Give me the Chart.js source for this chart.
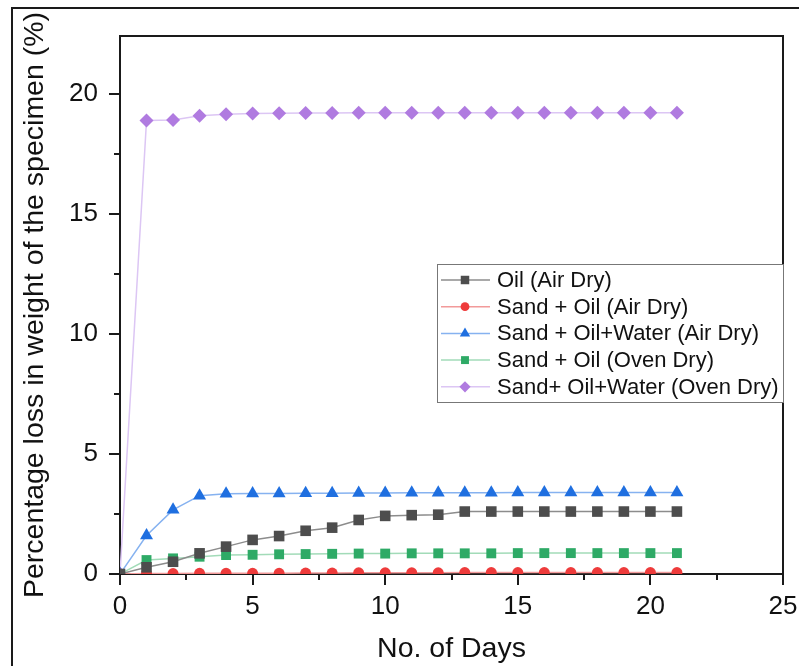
<!DOCTYPE html>
<html>
<head>
<meta charset="utf-8">
<script src="https://cdn.jsdelivr.net/npm/chart.js@4/dist/chart.umd.min.js"></script>
<style>
  html, body { margin: 0; padding: 0; background: #fff; overflow: hidden; }
  #wrap { position: relative; width: 799px; height: 666px; }
  #frame { position: absolute; left: 11px; top: 7px; width: 900px; height: 800px; border: 2px solid #1a1a1a; }
  canvas { position: absolute; left: 0; top: 0; }
</style>
</head>
<body>
<div id="wrap">
  <div id="frame"></div>
  <canvas id="lossChart" width="799" height="666"></canvas>
</div>
<script>
// Días de medición
const days = [0, 1, 2, 3, 4, 5, 6, 7, 8, 9, 10, 11, 12, 13, 14, 15, 16, 17, 18, 19, 20, 21];

// Pérdida de peso (%) por serie
const oilAir = [0, 0.28, 0.51, 0.86, 1.14, 1.42, 1.58, 1.8, 1.93, 2.25, 2.42, 2.45, 2.47, 2.6, 2.6, 2.6, 2.6, 2.6, 2.6, 2.6, 2.6, 2.6];
const sandOilAir = [0, 0.02, 0.02, 0.03, 0.03, 0.03, 0.03, 0.04, 0.04, 0.05, 0.05, 0.05, 0.05, 0.06, 0.06, 0.06, 0.06, 0.06, 0.06, 0.06, 0.06, 0.06];
const sandOilWaterAir = [0, 1.6, 2.67, 3.26, 3.34, 3.35, 3.35, 3.36, 3.36, 3.37, 3.37, 3.38, 3.38, 3.38, 3.38, 3.39, 3.39, 3.39, 3.39, 3.39, 3.39, 3.39];
const sandOilOven = [0, 0.58, 0.65, 0.72, 0.79, 0.8, 0.82, 0.83, 0.84, 0.85, 0.85, 0.86, 0.86, 0.86, 0.86, 0.87, 0.87, 0.87, 0.87, 0.87, 0.87, 0.87];
const sandOilWaterOven = [0, 18.88, 18.9, 19.08, 19.14, 19.17, 19.18, 19.19, 19.19, 19.2, 19.2, 19.2, 19.2, 19.2, 19.2, 19.2, 19.2, 19.2, 19.2, 19.2, 19.2, 19.2];

const seriesNames = ['Oil (Air Dry)', 'Sand + Oil (Air Dry)', 'Sand + Oil+Water (Air Dry)', 'Sand + Oil (Oven Dry)', 'Sand+ Oil+Water (Oven Dry)'];

// Ticks de los ejes
const xTicks = [0, 5, 10, 15, 20, 25];
const yTicks = [0, 5, 10, 15, 20];
const xMinor = [2.5, 7.5, 12.5, 17.5, 22.5];
const yMinor = [2.5, 7.5, 12.5, 17.5];

const FONT = "'Liberation Sans', Arial, sans-serif";

const styles = [
  { marker: '#4d4d4d', line: '#8c8c8c', shape: 'rect', r: 7.5 },
  { marker: '#ee3b3b', line: '#f29a9a', shape: 'circle', r: 5.5 },
  { marker: '#1f6fe0', line: '#86b2f0', shape: 'triangle', r: 7.5 },
  { marker: '#2eaa66', line: '#a2dbb8', shape: 'rect', r: 7 },
  { marker: '#b07be0', line: '#dcc6f4', shape: 'rectRot', r: 7 }
];

const values = [oilAir, sandOilAir, sandOilWaterAir, sandOilOven, sandOilWaterOven];

const datasets = values.map((vals, i) => ({
  label: seriesNames[i],
  data: days.map((d, j) => ({ x: d, y: vals[j] })),
  borderColor: styles[i].line,
  borderWidth: 1.5,
  pointStyle: styles[i].shape,
  pointRadius: styles[i].r,
  pointBackgroundColor: styles[i].marker,
  pointBorderWidth: 0,
  pointHoverRadius: styles[i].r,
  tension: 0,
  fill: false
}));

// Marco superior/derecho, ticks menores y leyenda
const extras = {
  id: 'extras',
  afterDraw(chart) {
    const ctx = chart.ctx;
    const a = chart.chartArea;
    const xs = chart.scales.x, ys = chart.scales.y;
    ctx.save();
    ctx.strokeStyle = '#1a1a1a';
    ctx.lineWidth = 2;
    ctx.beginPath();
    ctx.moveTo(a.left, a.top);
    ctx.lineTo(a.right, a.top);
    ctx.lineTo(a.right, a.bottom);
    ctx.stroke();
    // ticks menores
    ctx.beginPath();
    xMinor.forEach(v => {
      const px = Math.round(xs.getPixelForValue(v));
      ctx.moveTo(px, a.bottom);
      ctx.lineTo(px, a.bottom + 6);
    });
    yMinor.forEach(v => {
      const py = Math.round(ys.getPixelForValue(v));
      ctx.moveTo(a.left, py);
      ctx.lineTo(a.left - 6, py);
    });
    ctx.stroke();

    // leyenda
    const lx = a.right - 346, ly = 264, lw = 346, lh = 138;
    ctx.fillStyle = '#fff';
    ctx.fillRect(lx, ly, lw, lh);
    ctx.strokeStyle = '#777';
    ctx.lineWidth = 1;
    ctx.strokeRect(lx + 0.5, ly + 0.5, lw, lh);
    ctx.font = '22px ' + FONT;
    ctx.textBaseline = 'middle';
    ctx.textAlign = 'left';
    seriesNames.forEach((name, i) => {
      const y = ly + 16 + i * 26.7;
      ctx.strokeStyle = styles[i].line;
      ctx.lineWidth = 1.5;
      ctx.beginPath();
      ctx.moveTo(lx + 4, y);
      ctx.lineTo(lx + 53, y);
      ctx.stroke();
      ctx.fillStyle = styles[i].marker;
      Chart.helpers.drawPoint(ctx, { pointStyle: styles[i].shape, radius: styles[i].r * 0.8, rotation: 0, borderWidth: 0 }, lx + 28, y);
      ctx.fillStyle = '#111';
      ctx.fillText(name, lx + 60, y + 1);
    });
    ctx.restore();
  }
};

const ctx = document.getElementById('lossChart').getContext('2d');

const lossChart = new Chart(ctx, {
  type: 'line',
  data: { datasets: datasets },
  options: {
    responsive: false,
    animation: false,
    layout: { padding: { left: 0, top: 36, right: 16, bottom: 0 } },
    plugins: {
      legend: { display: false },
      tooltip: { enabled: false }
    },
    scales: {
      x: {
        type: 'linear',
        min: 0,
        max: 25,
        z: 1,
        afterFit: s => { s.height = 92; s.paddingRight = 0; s.paddingLeft = 0; },
        afterBuildTicks: s => { s.ticks = xTicks.map(v => ({ value: v })); },
        grid: { display: true, drawOnChartArea: false, color: '#1a1a1a', lineWidth: 2, tickLength: 11 },
        border: { display: true, color: '#1a1a1a', width: 2 },
        ticks: { color: '#111', font: { family: FONT, size: 26 }, padding: 6, maxRotation: 0 },
        title: { display: true, text: 'No. of Days', color: '#111', font: { family: FONT, size: 28.5 }, padding: { top: 0, bottom: 0 } }
      },
      y: {
        min: 0,
        max: 22.4,
        z: 1,
        afterFit: s => { s.width = 120; s.paddingTop = 0; s.paddingBottom = 0; },
        afterBuildTicks: s => { s.ticks = yTicks.map(v => ({ value: v })); },
        grid: { display: true, drawOnChartArea: false, color: '#1a1a1a', lineWidth: 2, tickLength: 11 },
        border: { display: true, color: '#1a1a1a', width: 2 },
        ticks: { color: '#111', font: { family: FONT, size: 26 }, padding: 11 },
        title: { display: true, text: 'Percentage loss in weight of the specimen (%)', color: '#111', font: { family: FONT, size: 28.5 }, padding: { top: 18, bottom: 0 } }
      }
    }
  },
  plugins: [extras]
});
</script>
</body>
</html>
